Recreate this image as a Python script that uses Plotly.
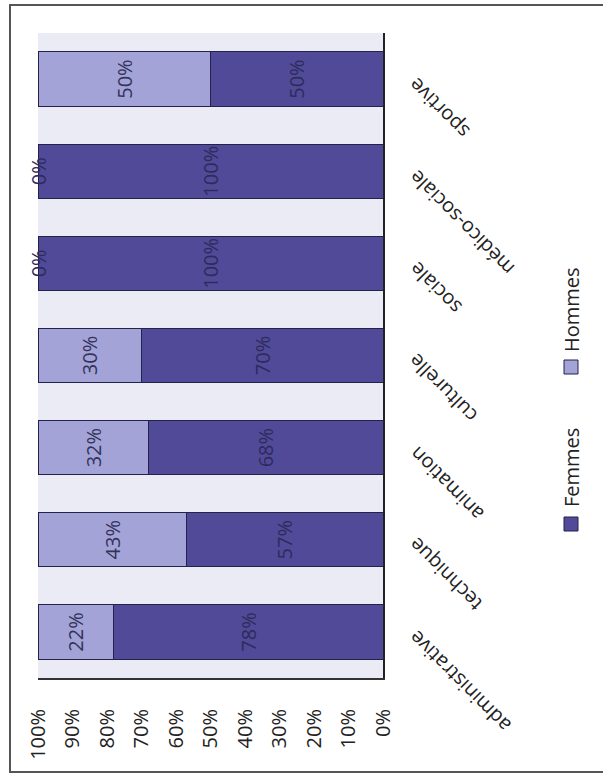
import plotly.graph_objects as go

categories = ["administrative", "technique", "animation", "culturelle",
              "sociale", "médico-sociale", "sportive"]
femmes = [78, 57, 68, 70, 100, 100, 50]
hommes = [22, 43, 32, 30, 0, 0, 50]
tick_values = [0, 10, 20, 30, 40, 50, 60, 70, 80, 90, 100]
tick_labels = ["0%", "10%", "20%", "30%", "40%", "50%", "60%", "70%", "80%", "90%", "100%"]
series_names = ["Femmes", "Hommes"]

W, H = 603, 776
L, R, T, B = 38, 383, 33, 678
FONT = "Open Sans"
C_F = "#514a98"
C_H = "#a3a3d8"
EDGE = "#22224a"


def px(x):
    return (x - L) / (R - L)


def py(y):
    return (B - y) / (B - T)


fig = go.Figure()
fig.add_trace(go.Bar(
    y=categories, x=femmes, orientation="h", name=series_names[0],
    marker=dict(color=C_F, line=dict(color=EDGE, width=1)),
    text=[f"{v}%" if v > 0 else "" for v in femmes],
    textposition="inside", insidetextanchor="middle", textangle=-90,
    constraintext="none",
    textfont=dict(family=FONT, size=20, color="#2e2b5c"),
    cliponaxis=False,
))
fig.add_trace(go.Bar(
    y=categories, x=hommes, orientation="h", name=series_names[1],
    marker=dict(color=C_H, line=dict(color=EDGE, width=1)),
    text=[f"{v}%" if v > 0 else "" for v in hommes],
    textposition="inside", insidetextanchor="middle", textangle=-90,
    constraintext="none",
    textfont=dict(family=FONT, size=20, color="#33335a"),
    cliponaxis=False,
))

annotations = []
# labels for zero-width segments
for c, f, h in zip(categories, femmes, hommes):
    if h == 0:
        annotations.append(dict(x=f + h / 2, y=c, xref="x", yref="y", text=f"{h}%",
                                showarrow=False, textangle=-90,
                                font=dict(family=FONT, size=20, color="#2e2b5c")))
# category labels (rotated)
for c in categories:
    annotations.append(dict(x=1, y=c, xref="paper", yref="y", text=c,
                            xanchor="left", yanchor="top", xshift=17, yshift=10,
                            showarrow=False, textangle=-135,
                            font=dict(family=FONT, size=20, color="#222222")))
# legend (rotated)
leg = [(series_names[0], C_F, 524, 468), (series_names[1], C_H, 367, 310)]
shapes = []
for name, col, sq_y, tx_y in leg:
    shapes.append(dict(type="rect", xref="paper", yref="paper",
                       x0=px(564), x1=px(578), y0=py(sq_y - 7), y1=py(sq_y + 7),
                       fillcolor=col, line=dict(color=EDGE, width=1)))
    annotations.append(dict(x=px(571), y=py(tx_y), xref="paper", yref="paper",
                            text=name, showarrow=False, textangle=-90,
                            xanchor="center", yanchor="middle",
                            font=dict(family=FONT, size=20, color="#222222")))
# outer frame
shapes.append(dict(type="rect", xref="paper", yref="paper",
                   x0=px(10), x1=px(620), y0=py(772), y1=py(5),
                   line=dict(color="#555555", width=2), layer="below"))

fig.update_layout(
    width=W, height=H,
    margin=dict(l=L, r=W - R, t=T, b=H - B),
    barmode="stack", bargap=0.41,
    showlegend=False,
    paper_bgcolor="white", plot_bgcolor="#ebebf5",
    font=dict(family=FONT, size=20, color="#222222"),
    annotations=annotations, shapes=shapes,
    xaxis=dict(range=[100, 0], tickvals=tick_values, ticktext=tick_labels,
               tickangle=-90, showgrid=False, zeroline=False,
               showline=True, linecolor="#333333", linewidth=2,
               ticks="", ticklabelstandoff=21,
               tickfont=dict(family=FONT, size=20, color="#222222")),
    yaxis=dict(side="right", showticklabels=False, showgrid=False, zeroline=False,
               showline=True, linecolor="#222222", linewidth=2, ticks="",
               range=[-0.5, 6.5], autorange=False,
               categoryorder="array", categoryarray=categories),
)

fig.write_html("out.html", config={"displayModeBar": False},
               post_script="document.body.style.margin='0px';")
